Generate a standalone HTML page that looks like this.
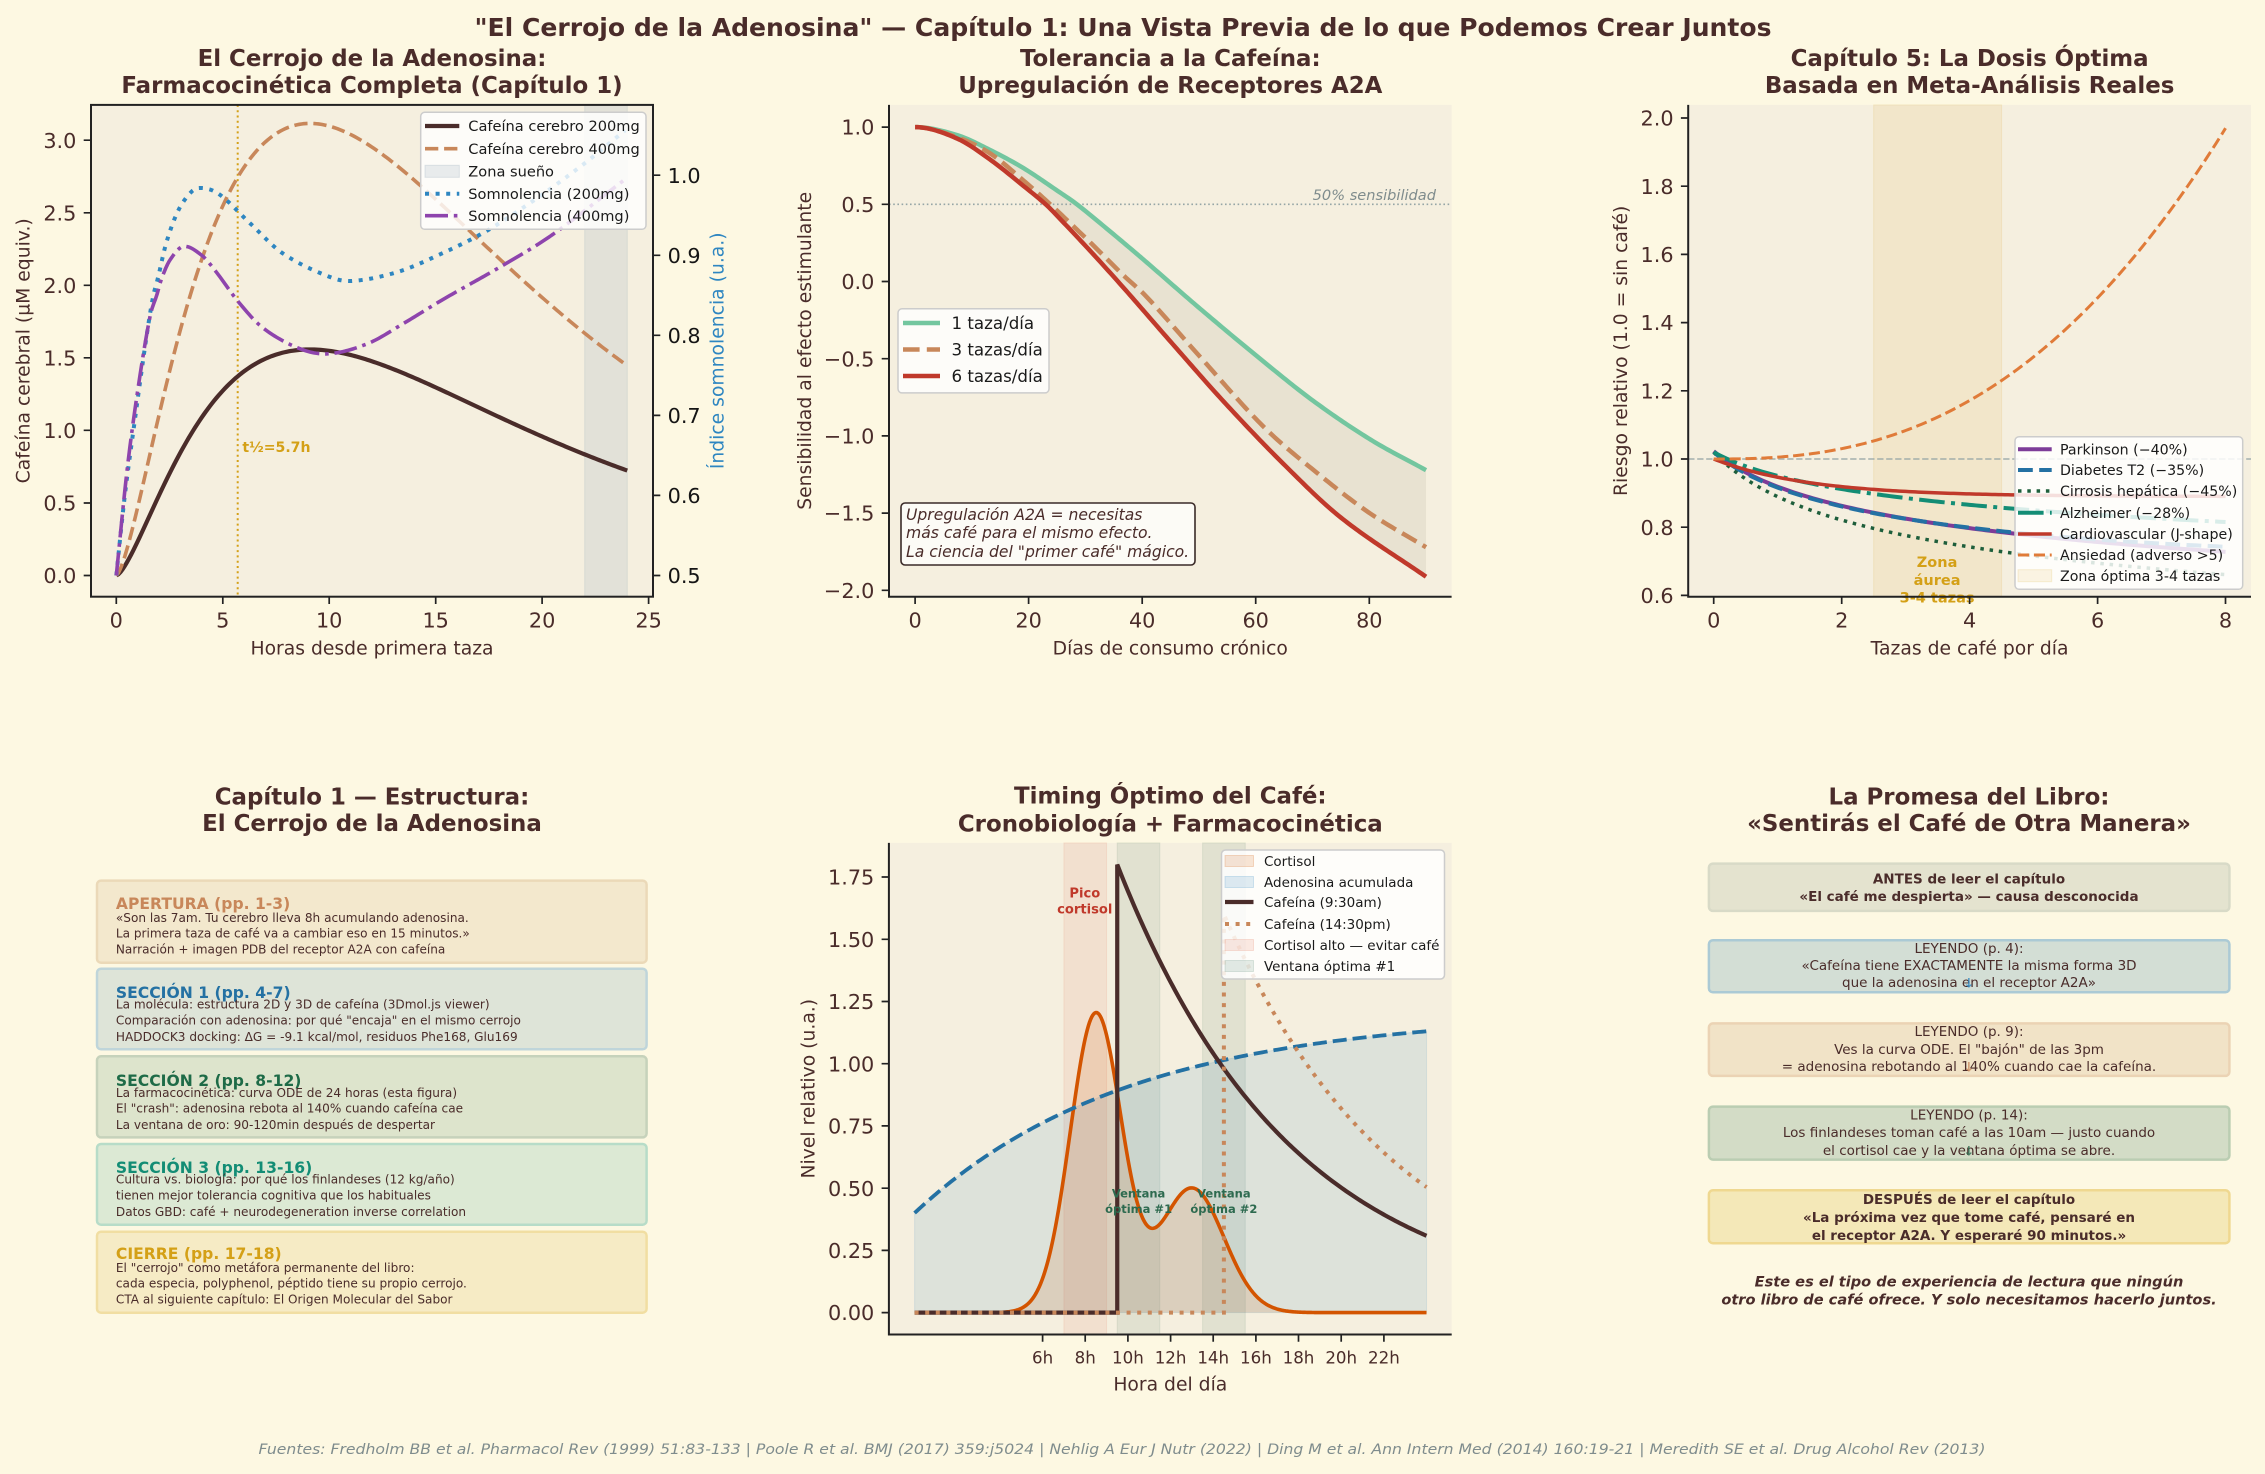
<!DOCTYPE html>
<html><head><meta charset="utf-8"><title>El Cerrojo de la Adenosina</title>
<style>html,body{margin:0;padding:0;background:#fdf8e2;overflow:hidden}svg{display:block}</style>
</head><body>
<svg width="2265" height="1474" viewBox="0 0 2265 1474" xmlns="http://www.w3.org/2000/svg">
<rect width="2265" height="1474" fill="#fdf8e2"/>
<g font-family="'DejaVu Sans','Liberation Sans',sans-serif" fill="#4a2c2a">

<text x="1123" y="36" text-anchor="middle" font-size="25" font-weight="bold" textLength="1297" lengthAdjust="spacingAndGlyphs">"El Cerrojo de la Adenosina" — Capítulo 1: Una Vista Previa de lo que Podemos Crear Juntos</text>

<!-- ============ TOP-LEFT ============ -->
<rect x="91" y="104.9" width="562" height="491.8" fill="#f5efdf"/>
<rect x="584.7" y="104.9" width="42.6" height="491.8" fill="#9fb3bf" fill-opacity="0.22" stroke="#9fb3bf" stroke-opacity="0.25"/>
<line x1="237.7" y1="104.9" x2="237.7" y2="596.7" stroke="#d4a017" stroke-width="2" stroke-dasharray="2 3.3"/>
<path id="c1a" fill="none" stroke="#4a2c2a" stroke-width="4.2"/>
<path id="c1b" fill="none" stroke="#c8875a" stroke-width="3.6" stroke-dasharray="13.3 5.8"/>
<path id="c1c" fill="none" stroke="#2e86c1" stroke-width="4" stroke-dasharray="4 6.6"/>
<path id="c1d" fill="none" stroke="#8e44ad" stroke-width="3.6" stroke-dasharray="23 5.8 3.6 5.8"/>
<text x="242.4" y="451.8" font-size="14.1" font-weight="bold" fill="#d4a017">t½=5.7h</text>
<rect x="91" y="104.9" width="562" height="491.8" fill="none" stroke="#222" stroke-width="2"/>
<path d="M83.7 575.5h7.3M83.7 503h7.3M83.7 430.3h7.3M83.7 357.8h7.3M83.7 285.3h7.3M83.7 212.8h7.3M83.7 140.2h7.3M653 575.5h7.3M653 495.4h7.3M653 415.4h7.3M653 335.3h7.3M653 255.3h7.3M653 175.2h7.3M116.3 596.7v7.3M222.8 596.7v7.3M329.2 596.7v7.3M435.7 596.7v7.3M542.1 596.7v7.3M648.6 596.7v7.3" stroke="#222" stroke-width="1.7" fill="none"/>
<g font-size="20.8" text-anchor="end">
<text x="76.4" y="583.1">0.0</text><text x="76.4" y="510.6">0.5</text><text x="76.4" y="437.9">1.0</text><text x="76.4" y="365.4">1.5</text><text x="76.4" y="292.9">2.0</text><text x="76.4" y="220.4">2.5</text><text x="76.4" y="147.8">3.0</text>
</g>
<g font-size="20.8" fill="#151515">
<text x="667.6" y="583.1">0.5</text><text x="667.6" y="503">0.6</text><text x="667.6" y="423">0.7</text><text x="667.6" y="342.9">0.8</text><text x="667.6" y="262.9">0.9</text><text x="667.6" y="182.8">1.0</text>
</g>
<g font-size="20.8" text-anchor="middle">
<text x="116.3" y="627.7">0</text><text x="222.8" y="627.7">5</text><text x="329.2" y="627.7">10</text><text x="435.7" y="627.7">15</text><text x="542.1" y="627.7">20</text><text x="648.6" y="627.7">25</text>
</g>
<text x="372" y="654.5" text-anchor="middle" font-size="18.75">Horas desde primera taza</text>
<text transform="translate(29.5 350.8) rotate(-90)" text-anchor="middle" font-size="18.75">Cafeína cerebral (µM equiv.)</text>
<text transform="translate(723.6 350.8) rotate(-90)" text-anchor="middle" font-size="18.75" fill="#2e86c1">Índice somnolencia (u.a.)</text>
<text x="372" y="65.9" text-anchor="middle" font-size="22.9" font-weight="bold">El Cerrojo de la Adenosina:</text>
<text x="372" y="93.2" text-anchor="middle" font-size="22.9" font-weight="bold">Farmacocinética Completa (Capítulo 1)</text>
<!-- legend -->
<rect x="420.7" y="112.3" width="225.3" height="117" rx="4" fill="#ffffff" fill-opacity="0.82" stroke="#cccccc" stroke-width="1.5"/>
<line x1="425" y1="126" x2="459.3" y2="126" stroke="#4a2c2a" stroke-width="4.2"/>
<line x1="425" y1="148.7" x2="459.3" y2="148.7" stroke="#c8875a" stroke-width="3.6" stroke-dasharray="13.3 5.8"/>
<rect x="425" y="165.3" width="34.3" height="12" fill="#9fb3bf" fill-opacity="0.22" stroke="#9fb3bf" stroke-opacity="0.3"/>
<line x1="425" y1="193.7" x2="459.3" y2="193.7" stroke="#2e86c1" stroke-width="4" stroke-dasharray="4 6.6"/>
<line x1="425" y1="215.7" x2="459.3" y2="215.7" stroke="#8e44ad" stroke-width="3.6" stroke-dasharray="23 5.8 3.6 5.8"/>
<g font-size="14.58" fill="#1a1a1a">
<text x="468.3" y="131.2">Cafeína cerebro 200mg</text>
<text x="468.3" y="153.9">Cafeína cerebro 400mg</text>
<text x="468.3" y="176.5">Zona sueño</text>
<text x="468.3" y="198.9">Somnolencia (200mg)</text>
<text x="468.3" y="220.9">Somnolencia (400mg)</text>
</g>

<!-- ============ TOP-MIDDLE ============ -->
<rect x="889" y="104.9" width="562.6" height="491.8" fill="#f5efdf"/>
<path id="f2" fill="#8c8670" fill-opacity="0.12" stroke="none"/>
<line x1="889" y1="204.3" x2="1451.6" y2="204.3" stroke="#95a5a6" stroke-width="1.6" stroke-dasharray="1.6 2.6"/>
<text x="1436" y="200" text-anchor="end" font-size="14.58" font-style="italic" fill="#7f8c8d">50% sensibilidad</text>
<path id="c2g" fill="none" stroke="#73c69f" stroke-width="4.5"/>
<path id="c2t" fill="none" stroke="#c8875a" stroke-width="4.5" stroke-dasharray="16.6 7.2"/>
<path id="c2r" fill="none" stroke="#c0392b" stroke-width="4.5"/>
<path d="M889 104.9V596.7H1451.6" fill="none" stroke="#222" stroke-width="2"/>
<path d="M881.7 127.1h7.3M881.7 204.3h7.3M881.7 281.5h7.3M881.7 358.7h7.3M881.7 435.9h7.3M881.7 513.1h7.3M881.7 590.3h7.3M915.1 596.7v7.3M1028.6 596.7v7.3M1142.2 596.7v7.3M1255.7 596.7v7.3M1369.3 596.7v7.3" stroke="#222" stroke-width="1.7" fill="none"/>
<g font-size="20.8" text-anchor="end">
<text x="874.4" y="134.7">1.0</text><text x="874.4" y="211.9">0.5</text><text x="874.4" y="289.1">0.0</text><text x="874.4" y="366.3">−0.5</text><text x="874.4" y="443.5">−1.0</text><text x="874.4" y="520.7">−1.5</text><text x="874.4" y="597.9">−2.0</text>
</g>
<g font-size="20.8" text-anchor="middle">
<text x="915.1" y="627.7">0</text><text x="1028.6" y="627.7">20</text><text x="1142.2" y="627.7">40</text><text x="1255.7" y="627.7">60</text><text x="1369.3" y="627.7">80</text>
</g>
<text x="1170.3" y="654.5" text-anchor="middle" font-size="18.75">Días de consumo crónico</text>
<text transform="translate(810.8 350.8) rotate(-90)" text-anchor="middle" font-size="18.75">Sensibilidad al efecto estimulante</text>
<text x="1170.3" y="65.9" text-anchor="middle" font-size="22.9" font-weight="bold">Tolerancia a la Cafeína:</text>
<text x="1170.3" y="93.2" text-anchor="middle" font-size="22.9" font-weight="bold">Upregulación de Receptores A2A</text>
<rect x="898" y="308.8" width="151" height="84.1" rx="4" fill="#ffffff" fill-opacity="0.82" stroke="#cccccc" stroke-width="1.5"/>
<line x1="903" y1="323" x2="940" y2="323" stroke="#73c69f" stroke-width="4.5"/>
<line x1="903" y1="349.5" x2="940" y2="349.5" stroke="#c8875a" stroke-width="4.5" stroke-dasharray="16.6 7.2"/>
<line x1="903" y1="376" x2="940" y2="376" stroke="#c0392b" stroke-width="4.5"/>
<g font-size="16.67" fill="#1a1a1a">
<text x="951.5" y="329">1 taza/día</text><text x="951.5" y="355.5">3 tazas/día</text><text x="951.5" y="382">6 tazas/día</text>
</g>
<rect x="901" y="503" width="294" height="62" rx="4" fill="#fdfcf8" fill-opacity="0.9" stroke="#3a2a28" stroke-width="1.6"/>
<g font-size="15.6" font-style="italic">
<text x="906" y="520">Upregulación A2A = necesitas</text>
<text x="906" y="538.2">más café para el mismo efecto.</text>
<text x="906" y="556.8">La ciencia del "primer café" mágico.</text>
</g>

<!-- ============ TOP-RIGHT ============ -->
<rect x="1688.2" y="104.9" width="562.8" height="491.8" fill="#f5efdf"/>
<rect x="1873.65" y="104.9" width="127.96" height="491.8" fill="#d4a017" fill-opacity="0.1" stroke="#d4a017" stroke-opacity="0.12"/>
<line x1="1688.2" y1="459" x2="2251" y2="459" stroke="#95a5a6" stroke-width="1.7" stroke-dasharray="6.3 2.7" stroke-opacity="0.75"/>
<path id="c3p" fill="none" stroke="#7d3c98" stroke-width="4"/>
<path id="c3d" fill="none" stroke="#2471a3" stroke-width="4" stroke-dasharray="14.8 6.4"/>
<path id="c3c" fill="none" stroke="#1e5e3b" stroke-width="3.5" stroke-dasharray="3.5 5.8"/>
<path id="c3a" fill="none" stroke="#138d75" stroke-width="4" stroke-dasharray="25.6 6.4 4 6.4"/>
<path id="c3v" fill="none" stroke="#c0392b" stroke-width="3.5"/>
<path id="c3x" fill="none" stroke="#e07b39" stroke-width="3" stroke-dasharray="11.1 4.8"/>
<g font-size="14.5" font-weight="bold" fill="#d4a017" text-anchor="middle">
<text x="1937.1" y="566.8">Zona</text><text x="1937.1" y="585">áurea</text><text x="1937.1" y="602.3">3-4 tazas</text>
</g>
<path d="M1688.2 104.9V596.7H2251" fill="none" stroke="#222" stroke-width="2"/>
<path d="M1680.9 595.4h7.3M1680.9 527.2h7.3M1680.9 459h7.3M1680.9 390.8h7.3M1680.9 322.6h7.3M1680.9 254.4h7.3M1680.9 186.2h7.3M1680.9 118h7.3M1713.7 596.7v7.3M1841.7 596.7v7.3M1969.6 596.7v7.3M2097.6 596.7v7.3M2225.5 596.7v7.3" stroke="#222" stroke-width="1.7" fill="none"/>
<g font-size="20.8" text-anchor="end">
<text x="1673.6" y="603">0.6</text><text x="1673.6" y="534.8">0.8</text><text x="1673.6" y="466.6">1.0</text><text x="1673.6" y="398.4">1.2</text><text x="1673.6" y="330.2">1.4</text><text x="1673.6" y="262">1.6</text><text x="1673.6" y="193.8">1.8</text><text x="1673.6" y="125.6">2.0</text>
</g>
<g font-size="20.8" text-anchor="middle">
<text x="1713.7" y="627.7">0</text><text x="1841.7" y="627.7">2</text><text x="1969.6" y="627.7">4</text><text x="2097.6" y="627.7">6</text><text x="2225.5" y="627.7">8</text>
</g>
<text x="1969.6" y="654.5" text-anchor="middle" font-size="18.75">Tazas de café por día</text>
<text transform="translate(1626.9 350.8) rotate(-90)" text-anchor="middle" font-size="18.75">Riesgo relativo (1.0 = sin café)</text>
<text x="1969.6" y="65.9" text-anchor="middle" font-size="22.9" font-weight="bold">Capítulo 5: La Dosis Óptima</text>
<text x="1969.6" y="93.2" text-anchor="middle" font-size="22.9" font-weight="bold">Basada en Meta-Análisis Reales</text>
<rect x="2015" y="436.7" width="227.7" height="152.6" rx="4" fill="#ffffff" fill-opacity="0.84" stroke="#cccccc" stroke-width="1.5"/>
<line x1="2018" y1="449.3" x2="2051.7" y2="449.3" stroke="#7d3c98" stroke-width="4"/>
<line x1="2018" y1="470" x2="2051.7" y2="470" stroke="#2471a3" stroke-width="4" stroke-dasharray="14.8 6.4"/>
<line x1="2018" y1="491" x2="2051.7" y2="491" stroke="#1e5e3b" stroke-width="3.5" stroke-dasharray="3.5 5.8"/>
<line x1="2018" y1="512.7" x2="2051.7" y2="512.7" stroke="#138d75" stroke-width="4" stroke-dasharray="25.6 6.4 4 6.4"/>
<line x1="2018" y1="534" x2="2051.7" y2="534" stroke="#c0392b" stroke-width="3.5"/>
<line x1="2018" y1="555" x2="2051.7" y2="555" stroke="#e07b39" stroke-width="3" stroke-dasharray="11.1 4.8"/>
<rect x="2018" y="569.7" width="33.7" height="12" fill="#d4a017" fill-opacity="0.1" stroke="#d4a017" stroke-opacity="0.15"/>
<g font-size="14.2" fill="#1a1a1a">
<text x="2060" y="454.4">Parkinson (−40%)</text>
<text x="2060" y="475.1">Diabetes T2 (−35%)</text>
<text x="2060" y="496.1">Cirrosis hepática (−45%)</text>
<text x="2060" y="517.8">Alzheimer (−28%)</text>
<text x="2060" y="539.1">Cardiovascular (J-shape)</text>
<text x="2060" y="560.1">Ansiedad (adverso &gt;5)</text>
<text x="2060" y="580.8">Zona óptima 3-4 tazas</text>
</g>

<!-- ============ BOTTOM-LEFT ============ -->
<text x="372" y="804.5" text-anchor="middle" font-size="22.9" font-weight="bold">Capítulo 1 — Estructura:</text>
<text x="372" y="831.2" text-anchor="middle" font-size="22.9" font-weight="bold">El Cerrojo de la Adenosina</text>
<rect x="97" y="880.6" width="549.6" height="82.1" rx="4" fill="#f3e8cd" stroke="#ebd9b8" stroke-width="2.5"/>
<rect x="97" y="968.7" width="549.6" height="80.6" rx="4" fill="#dee4d8" stroke="#bfd5da" stroke-width="2.5"/>
<rect x="97" y="1056.3" width="549.6" height="81.1" rx="4" fill="#dde4cc" stroke="#c6d2bb" stroke-width="2.5"/>
<rect x="97" y="1144" width="549.6" height="80.7" rx="4" fill="#dce9d4" stroke="#b7dcc8" stroke-width="2.5"/>
<rect x="97" y="1231.7" width="549.6" height="81" rx="4" fill="#f6ebc5" stroke="#f1dea2" stroke-width="2.5"/>
<g font-size="15.6" font-weight="bold">
<text x="115.9" y="909.1" fill="#c8875a">APERTURA (pp. 1-3)</text>
<text x="115.9" y="997.9" fill="#2471a3">SECCIÓN 1 (pp. 4-7)</text>
<text x="115.9" y="1086" fill="#1e6b47">SECCIÓN 2 (pp. 8-12)</text>
<text x="115.9" y="1172.9" fill="#138d75">SECCIÓN 3 (pp. 13-16)</text>
<text x="115.9" y="1259.1" fill="#d4a017">CIERRE (pp. 17-18)</text>
</g>
<g font-size="12.1">
<text x="115.9" y="922.2">«Son las 7am. Tu cerebro lleva 8h acumulando adenosina.</text>
<text x="115.9" y="937.7">La primera taza de café va a cambiar eso en 15 minutos.»</text>
<text x="115.9" y="953.6">Narración + imagen PDB del receptor A2A con cafeína</text>
<text x="115.9" y="1008.7">La molécula: estructura 2D y 3D de cafeína (3Dmol.js viewer)</text>
<text x="115.9" y="1024.6">Comparación con adenosina: por qué "encaja" en el mismo cerrojo</text>
<text x="115.9" y="1040.9">HADDOCK3 docking: ΔG = -9.1 kcal/mol, residuos Phe168, Glu169</text>
<text x="115.9" y="1096.8">La farmacocinética: curva ODE de 24 horas (esta figura)</text>
<text x="115.9" y="1112.7">El "crash": adenosina rebota al 140% cuando cafeína cae</text>
<text x="115.9" y="1129">La ventana de oro: 90-120min después de despertar</text>
<text x="115.9" y="1183.7">Cultura vs. biología: por qué los finlandeses (12 kg/año)</text>
<text x="115.9" y="1199.6">tienen mejor tolerancia cognitiva que los habituales</text>
<text x="115.9" y="1215.9">Datos GBD: café + neurodegeneration inverse correlation</text>
<text x="115.9" y="1271.8">El "cerrojo" como metáfora permanente del libro:</text>
<text x="115.9" y="1287.7">cada especia, polyphenol, péptido tiene su propio cerrojo.</text>
<text x="115.9" y="1303.6">CTA al siguiente capítulo: El Origen Molecular del Sabor</text>
</g>

<!-- ============ BOTTOM-MIDDLE ============ -->
<rect x="888.9" y="842.9" width="562.8" height="491.6" fill="#f5efdf"/>
<rect x="1063.9" y="842.9" width="42.66" height="491.6" fill="#dc5032" fill-opacity="0.09" stroke="#dc5032" stroke-opacity="0.1"/>
<rect x="1117.2" y="842.9" width="42.66" height="491.6" fill="#2d6a4f" fill-opacity="0.1" stroke="#2d6a4f" stroke-opacity="0.1"/>
<rect x="1202.6" y="842.9" width="42.66" height="491.6" fill="#2d6a4f" fill-opacity="0.1" stroke="#2d6a4f" stroke-opacity="0.1"/>
<path id="f5a" fill="#2e86c1" fill-opacity="0.12" stroke="#2e86c1" stroke-opacity="0.12"/>
<path id="f5c" fill="#d35400" fill-opacity="0.13" stroke="none"/>
<path id="c5c" fill="none" stroke="#d35400" stroke-width="3.6"/>
<path id="c5a" fill="none" stroke="#2471a3" stroke-width="3.8" stroke-dasharray="14 6"/>
<path id="c5k" fill="none" stroke="#4a2c2a" stroke-width="4.2"/>
<path id="c5m" fill="none" stroke="#c8875a" stroke-width="4" stroke-dasharray="4 6.6"/>
<g font-size="13.1" font-weight="bold" fill="#c0392b" text-anchor="middle">
<text x="1084.8" y="897.7">Pico</text><text x="1084.8" y="913.7">cortisol</text>
</g>
<g font-size="11.5" font-weight="bold" fill="#2d6a4f" text-anchor="middle">
<text x="1138.6" y="1197.6">Ventana</text><text x="1138.6" y="1212.8">óptima #1</text>
<text x="1223.9" y="1197.6">Ventana</text><text x="1223.9" y="1212.8">óptima #2</text>
</g>
<path d="M888.9 842.9V1334.5H1451.7" fill="none" stroke="#222" stroke-width="2"/>
<path d="M881.6 1312.6h7.3M881.6 1250.4h7.3M881.6 1188.2h7.3M881.6 1125.9h7.3M881.6 1063.7h7.3M881.6 1001.5h7.3M881.6 939.3h7.3M881.6 877h7.3M1042.6 1334.5v7.3M1085.2 1334.5v7.3M1127.9 1334.5v7.3M1170.6 1334.5v7.3M1213.2 1334.5v7.3M1255.9 1334.5v7.3M1298.5 1334.5v7.3M1341.2 1334.5v7.3M1383.9 1334.5v7.3" stroke="#222" stroke-width="1.7" fill="none"/>
<g font-size="20.8" text-anchor="end">
<text x="874.3" y="1320.2">0.00</text><text x="874.3" y="1258">0.25</text><text x="874.3" y="1195.8">0.50</text><text x="874.3" y="1133.5">0.75</text><text x="874.3" y="1071.3">1.00</text><text x="874.3" y="1009.1">1.25</text><text x="874.3" y="946.9">1.50</text><text x="874.3" y="884.6">1.75</text>
</g>
<g font-size="16.67" text-anchor="middle">
<text x="1042.6" y="1363.7">6h</text><text x="1085.2" y="1363.7">8h</text><text x="1127.9" y="1363.7">10h</text><text x="1170.6" y="1363.7">12h</text><text x="1213.2" y="1363.7">14h</text><text x="1255.9" y="1363.7">16h</text><text x="1298.5" y="1363.7">18h</text><text x="1341.2" y="1363.7">20h</text><text x="1383.9" y="1363.7">22h</text>
</g>
<text x="1170.3" y="1390.5" text-anchor="middle" font-size="18.75">Hora del día</text>
<text transform="translate(814.7 1088.7) rotate(-90)" text-anchor="middle" font-size="18.75">Nivel relativo (u.a.)</text>
<text x="1170.3" y="803.3" text-anchor="middle" font-size="22.9" font-weight="bold">Timing Óptimo del Café:</text>
<text x="1170.3" y="831.3" text-anchor="middle" font-size="22.9" font-weight="bold">Cronobiología + Farmacocinética</text>
<rect x="1221.5" y="850" width="223" height="129" rx="4" fill="#ffffff" fill-opacity="0.84" stroke="#cccccc" stroke-width="1.5"/>
<rect x="1225" y="855.5" width="28.5" height="11" fill="#d35400" fill-opacity="0.15" stroke="#d35400" stroke-opacity="0.2"/>
<rect x="1225" y="876.5" width="28.5" height="11" fill="#2e86c1" fill-opacity="0.15" stroke="#2e86c1" stroke-opacity="0.2"/>
<line x1="1225" y1="902" x2="1253.5" y2="902" stroke="#4a2c2a" stroke-width="4.2"/>
<line x1="1225" y1="924" x2="1253.5" y2="924" stroke="#c8875a" stroke-width="4" stroke-dasharray="4 6.6"/>
<rect x="1225" y="939.5" width="28.5" height="11" fill="#dc5032" fill-opacity="0.12" stroke="#dc5032" stroke-opacity="0.15"/>
<rect x="1225" y="960.5" width="28.5" height="11" fill="#2d6a4f" fill-opacity="0.12" stroke="#2d6a4f" stroke-opacity="0.15"/>
<g font-size="13.5" fill="#1a1a1a">
<text x="1264" y="865.9">Cortisol</text>
<text x="1264" y="886.9">Adenosina acumulada</text>
<text x="1264" y="906.9">Cafeína (9:30am)</text>
<text x="1264" y="928.9">Cafeína (14:30pm)</text>
<text x="1264" y="949.9">Cortisol alto — evitar café</text>
<text x="1264" y="970.9">Ventana óptima #1</text>
</g>

<!-- ============ BOTTOM-RIGHT ============ -->
<text x="1969" y="804.5" text-anchor="middle" font-size="22.9" font-weight="bold">La Promesa del Libro:</text>
<text x="1969" y="831.2" text-anchor="middle" font-size="22.9" font-weight="bold">«Sentirás el Café de Otra Manera»</text>
<rect x="1708.9" y="863.6" width="520.5" height="47.3" rx="4" fill="#e4e3cf" stroke="#d8dac7" stroke-width="2.5"/>
<rect x="1708.9" y="940.2" width="520.5" height="52.1" rx="4" fill="#d3ded5" stroke="#abcad5" stroke-width="2.5"/>
<rect x="1708.9" y="1023.4" width="520.5" height="52.5" rx="4" fill="#f1e3c7" stroke="#ebd3b4" stroke-width="2.5"/>
<rect x="1708.9" y="1106.6" width="520.5" height="53" rx="4" fill="#d3dcc6" stroke="#bacdb2" stroke-width="2.5"/>
<rect x="1708.9" y="1190.3" width="520.5" height="52.9" rx="4" fill="#f4e8b8" stroke="#efd890" stroke-width="2.5"/>
<g font-size="13.5" text-anchor="middle">
<text x="1969" y="883.3" font-weight="bold">ANTES de leer el capítulo</text>
<text x="1969" y="901" font-weight="bold">«El café me despierta» — causa desconocida</text>
<text x="1969" y="953.2">LEYENDO (p. 4):</text>
<text x="1969" y="970.2">«Cafeína tiene EXACTAMENTE la misma forma 3D</text>
<text x="1969" y="987.2">que la adenosina en el receptor A2A»</text>
<text x="1969" y="1036.1">LEYENDO (p. 9):</text>
<text x="1969" y="1053.8">Ves la curva ODE. El "bajón" de las 3pm</text>
<text x="1969" y="1071.2">= adenosina rebotando al 140% cuando cae la cafeína.</text>
<text x="1969" y="1119.3">LEYENDO (p. 14):</text>
<text x="1969" y="1137.1">Los finlandeses toman café a las 10am — justo cuando</text>
<text x="1969" y="1155.2">el cortisol cae y la ventana óptima se abre.</text>
<text x="1969" y="1204" font-weight="bold">DESPUÉS de leer el capítulo</text>
<text x="1969" y="1222.2" font-weight="bold">«La próxima vez que tome café, pensaré en</text>
<text x="1969" y="1239.9" font-weight="bold">el receptor A2A. Y esperaré 90 minutos.»</text>
</g>
<g font-size="13" text-anchor="middle" font-weight="bold" fill-opacity="0.8">
<text x="1969" y="987.5" fill="#2e86c1">↓</text>
<text x="1969" y="1071.5" fill="#c8875a">↓</text>
<text x="1969" y="1155.5" fill="#2d6a4f">↓</text>
</g>
<g font-size="14.58" text-anchor="middle" font-weight="bold" font-style="italic">
<text x="1969" y="1286.6">Este es el tipo de experiencia de lectura que ningún</text>
<text x="1969" y="1304.4">otro libro de café ofrece. Y solo necesitamos hacerlo juntos.</text>
</g>

<text x="1122" y="1454" text-anchor="middle" font-size="14.58" font-style="italic" fill="#7f8c8d" textLength="1727" lengthAdjust="spacingAndGlyphs">Fuentes: Fredholm BB et al. Pharmacol Rev (1999) 51:83-133 | Poole R et al. BMJ (2017) 359:j5024 | Nehlig A Eur J Nutr (2022) | Ding M et al. Ann Intern Med (2014) 160:19-21 | Meredith SE et al. Drug Alcohol Rev (2013)</text>
</g>
</svg>
<script>
(function(){
function D(p){return 'M'+p.map(function(q){return q[0].toFixed(2)+','+q[1].toFixed(2);}).join('L');}
function S(id,v){var e=document.getElementById(id);if(e)e.setAttribute('d',v);}
function samp(f,a,b,n){var r=[];for(var i=0;i<=n;i++){var t=a+(b-a)*i/n;r.push([t,f(t)]);}return r;}
function mp(p,fx,fy){return p.map(function(q){return [fx(q[0]),fy(q[1])];});}
function herm(P,m0){var n=P.length;var m=P.map(function(p,i){if(i==0)return (m0!==undefined)?m0:(P[1][1]-P[0][1])/(P[1][0]-P[0][0]);if(i==n-1)return (P[n-1][1]-P[n-2][1])/(P[n-1][0]-P[n-2][0]);return (P[i+1][1]-P[i-1][1])/(P[i+1][0]-P[i-1][0]);});
 return function(t){var i=0;while(i<n-2&&t>P[i+1][0])i++;var h=P[i+1][0]-P[i][0],s=(t-P[i][0])/h,s2=s*s,s3=s2*s;return (2*s3-3*s2+1)*P[i][1]+(s3-2*s2+s)*h*m[i]+(-2*s3+3*s2)*P[i+1][1]+(s3-s2)*h*m[i+1];};}
/* chart 1 */
var X1=function(t){return 116.3+21.29*t;},YL=function(v){return 575.5-145.1*v;},YR=function(v){return 575.5-800.6*(v-0.5);};
var f200=function(t){return 5.178*Math.pow(1-Math.exp(-t/6.96),1.5)*Math.exp(-t/12.5);};
S('c1a',D(mp(samp(f200,0,24,240),X1,YL)));
S('c1b',D(mp(samp(function(t){return 2*f200(t);},0,24,240),X1,YL)));
var blue=[[0,0.5],[0.4,0.6],[0.85,0.69],[1.35,0.786],[1.71,0.846],[1.97,0.873],[2.32,0.913],[2.84,0.952],[3.38,0.975],[3.85,0.984],[4.79,0.977],[6.28,0.94],[7.84,0.902],[10.12,0.872],[11.16,0.868],[13.2,0.879],[15.03,0.899],[17.3,0.929],[19.58,0.968],[21.86,1.012],[23.9,1.056]];
var purp=[[0,0.5],[0.5,0.63],[1.0,0.73],[1.58,0.823],[1.9,0.85],[2.13,0.871],[2.52,0.894],[3.15,0.911],[4.01,0.9],[4.64,0.881],[5.73,0.842],[6.9,0.809],[8.65,0.783],[10.0,0.777],[11.84,0.79],[13.5,0.815],[15.36,0.845],[18.2,0.888],[20.5,0.926],[24,0.997]];
S('c1c',D(mp(samp(herm(blue),0,23.9,300),X1,YR)));
S('c1d',D(mp(samp(herm(purp),0,24,300),X1,YR)));
/* chart 2 */
var X2=function(d){return 915.1+5.677*d;},Y2=function(v){return 281.5-154.4*v;};
var green=[[0,1],[7.33,0.949],[13.2,0.852],[19.06,0.735],[24.9,0.592],[28.5,0.5],[34,0.335],[40.13,0.145],[49.53,-0.155],[59.77,-0.47],[70.02,-0.77],[80.27,-1.025],[90,-1.222]];
var red=[[0,1],[7.33,0.927],[13.2,0.79],[19.06,0.62],[23,0.5],[24.9,0.43],[30.8,0.2],[36.7,-0.04],[45.25,-0.40],[54.64,-0.789],[64.9,-1.182],[75.14,-1.533],[90,-1.912]];
var tan=[[0,1],[7.33,0.935],[13.2,0.83],[19.06,0.655],[23.8,0.5],[30.8,0.255],[36.7,0.04],[40.8,-0.1],[49.53,-0.46],[61.48,-0.944],[71.73,-1.267],[80.27,-1.505],[90,-1.721]];
var G=mp(samp(herm(green,0),0,90,240),X2,Y2),R=mp(samp(herm(red,0),0,90,240),X2,Y2),T=mp(samp(herm(tan,0),0,90,240),X2,Y2);
S('c2g',D(G));S('c2t',D(T));S('c2r',D(R));
S('f2',D(G.concat(R.slice().reverse()))+'Z');
/* chart 3 */
var X3=function(c){return 1713.7+63.98*c;},Y3=function(v){return 800-341*v;};
var park=function(c){return 1.023*Math.pow(1+c,-0.155);};
S('c3p',D(mp(samp(park,0,8,160),X3,Y3)));
S('c3d',D(mp(samp(function(c){return park(c)-0.003+0.018*Math.pow(c/8,2);},0,8,160),X3,Y3)));
S('c3c',D(mp(samp(function(c){return 1.02*Math.pow(1+c,-0.1975);},0,8,160),X3,Y3)));
S('c3a',D(mp(samp(function(c){return 1.02*Math.pow(1+c,-0.102);},0,8,160),X3,Y3)));
S('c3v',D(mp(samp(function(c){return 0.89+0.11*Math.exp(-c/1.5);},0,8,160),X3,Y3)));
S('c3x',D(mp(samp(function(c){return 1+0.97*Math.pow(c/8,2.5);},0,8,160),X3,Y3)));
/* chart 5 */
var X5=function(h){return 914.6+21.33*h;},Y5=function(v){return 1312.6-248.9*v;};
var cort=function(h){return 1.2*Math.exp(-Math.pow(h-8.5,2)/2.88)+0.5*Math.exp(-Math.pow(h-13,2)/4.5);};
var aden=function(h){return 0.4+0.803*(1-Math.exp(-h/10));};
var C=mp(samp(cort,0,24,480),X5,Y5),A=mp(samp(aden,0,24,240),X5,Y5);
S('c5c',D(C));S('c5a',D(A));
S('f5c',D(C)+'L'+X5(24)+','+Y5(0)+'L'+X5(0)+','+Y5(0)+'Z');
S('f5a',D(A)+'L'+X5(24)+','+Y5(0)+'L'+X5(0)+','+Y5(0)+'Z');
var k1=[[0,0],[9.5,0]].concat(samp(function(h){return 1.8*Math.exp(-Math.LN2*(h-9.5)/5.7);},9.5,24,150));
var k2=[[0,0],[14.5,0]].concat(samp(function(h){return 1.6*Math.exp(-Math.LN2*(h-14.5)/5.7);},14.5,24,100));
S('c5k',D(mp(k1,X5,Y5)));S('c5m',D(mp(k2,X5,Y5)));
})();
</script>
</body></html>
